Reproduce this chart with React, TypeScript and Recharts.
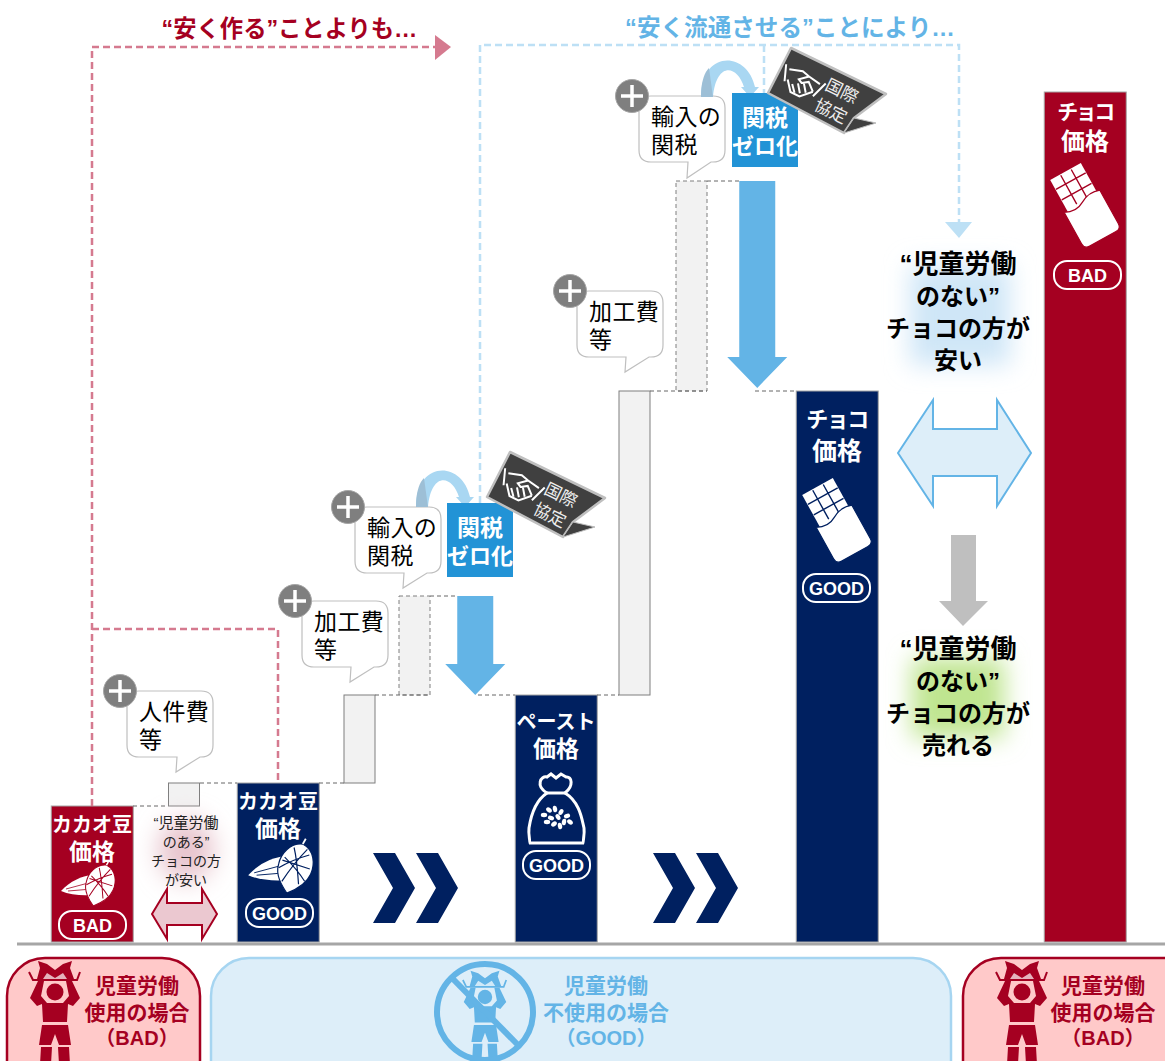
import { Bar, BarChart, ReferenceLine, XAxis, YAxis } from "recharts";

const WIDTH = 1165;
const HEIGHT = 1061;
const BASE_Y = 942;
const PRICE_BAR_WIDTH = 82;
const CUT_ARROW_WIDTH = 60;

const NAVY = "#002060";
const CRIMSON = "#a50021";
const SKY = "#63b4e6";
const PALE_SKY = "#ddeef9";
const FONT = '"Liberation Sans", "Noto Sans CJK JP", sans-serif';

// price bars, cost steps and the tariff cuts, all on one price scale
const priceSteps = [92, 278, 556, 837, 1085];
const priceValues = [136, 159, 247, 551, 850];
const priceGrades = ["BAD", "GOOD", "GOOD", "GOOD", "BAD"];

const costSteps = [184, 359.5, 414.5, 634.5, 691.5];
const costFrom = [136, 159, 247, 247, 551];
const costTo = [159, 247, 346, 551, 761];
const costKinds = ["labour", "process", "tariff", "process", "tariff"];

const cutSteps = [475, 757];
const cutFrom = [346, 761];
const cutTo = [247, 554];

const connectorLevels = [136, 159, 159, 247, 346, 247, 247, 551, 761, 551];
const connectorStart = [133, 200, 319, 375, 430, 478, 597, 650, 707, 755];
const connectorEnd = [168, 237, 344, 430, 458, 515, 619, 707, 739, 796];

const rows = [
  ...priceSteps.map((step, i) => ({ step, price: [0, priceValues[i]], grade: priceGrades[i] })),
  ...costSteps.map((step, i) => ({ step, cost: [costFrom[i], costTo[i]], kind: costKinds[i] })),
  ...cutSteps.map((step, i) => ({ step, cut: [cutTo[i], cutFrom[i]] })),
];

// The number axis caps bar width at the closest gap between steps, so the wide shapes re-centre themselves
function PriceBar(props: any) {
  if (!props.payload.price) return null;
  const fill = props.payload.grade === "BAD" ? CRIMSON : NAVY;
  const left = props.x + props.width / 2 - PRICE_BAR_WIDTH / 2;
  return <rect x={left} y={props.y} width={PRICE_BAR_WIDTH} height={props.height} fill={fill} stroke="#a6a6a6" strokeWidth={1} />;
}

function CostBar(props: any) {
  if (!props.payload.cost) return null;
  const dashed = props.payload.kind === "tariff";
  return (
    <rect
      x={props.x}
      y={props.y}
      width={props.width}
      height={props.height}
      fill="#f2f2f2"
      stroke="#7f7f7f"
      strokeWidth={1}
      strokeDasharray={dashed ? "4 3" : undefined}
    />
  );
}

function CutArrow(props: any) {
  if (!props.payload.cut) return null;
  const { y, height } = props;
  const mid = props.x + props.width / 2;
  const half = CUT_ARROW_WIDTH / 2;
  const head = y + height - 31;
  const pts = [
    [mid - 18, y],
    [mid + 18, y],
    [mid + 18, head],
    [mid + half, head],
    [mid, y + height],
    [mid - half, head],
    [mid - 18, head],
  ];
  return <polygon points={pts.map((p) => p.join(",")).join(" ")} fill={SKY} />;
}

function Lines({ x, y, step = 0, lines, size, fill = "#000", weight = 400, anchor = "middle", spacing }: any) {
  return (
    <g fontSize={size} fill={fill} fontWeight={weight} textAnchor={anchor} letterSpacing={spacing}>
      {lines.map((line: string, i: number) => (
        <text key={i} x={x} y={y + i * step}>
          {line}
        </text>
      ))}
    </g>
  );
}

function GradePill({ x, y, label, width = 67 }: any) {
  return (
    <g>
      <rect x={x} y={y} width={width} height={28} rx={13} fill="none" stroke="#fff" strokeWidth={2} />
      <text x={x + width / 2} y={y + 21} fontSize={18} fontWeight={700} fill="#fff" textAnchor="middle">
        {label}
      </text>
    </g>
  );
}

function Callout({ x, y, tipX, tipY, lines }: any) {
  // rounded speech bubble with the plus badge on its top-left corner
  const w = 86;
  const h = 66;
  const r = 12;
  const d = `M${x + r},${y} H${x + w - r} Q${x + w},${y} ${x + w},${y + r} V${y + h - r} Q${x + w},${y + h} ${x + w - r},${y + h} H${tipX + 24} L${tipX},${tipY} L${tipX + 1},${y + h} H${x + r} Q${x},${y + h} ${x},${y + h - r} V${y + r} Q${x},${y} ${x + r},${y} Z`;
  return (
    <g>
      <path d={d} fill="#fff" stroke="#bfbfbf" strokeWidth={1.2} />
      <circle cx={x - 7} cy={y} r={16.5} fill="#7f7f7f" stroke="#a6a6a6" strokeWidth={1} />
      <path d={`M${x - 18},${y} H${x + 4} M${x - 7},${y - 11} V${y + 11}`} stroke="#fff" strokeWidth={3.5} />
      <Lines x={x + 12} y={y + 29} step={28} lines={lines} size={23} anchor="start" spacing={0.4} />
    </g>
  );
}

// 関税ゼロ化 box, its curved arrow and the 国際協定 tag; the group is reused higher up
function TariffZero({ dx = 0, dy = 0, tagDx = 0, tagDy = 0 }: any) {
  return (
    <g transform={`translate(${dx},${dy})`}>
      <path d="M416,507 C416,460 462,460 470,497 L459,497 C452,474 431,472 428,507 Z" fill="#a9d7f2" />
      <path d="M416,507 C416,490 420,482 424,478 L428,507 Z" fill="#9dbfd6" />
      <polygon points="456,497 474,497 465,507" fill="#a9d7f2" />
      <rect x={447} y={503} width={66} height={74} fill="#2293d6" />
      <Lines x={480} y={536} lines={["関税"]} size={23} fill="#fff" weight={700} />
      <Lines x={480} y={564} lines={["ゼロ化"]} size={22} fill="#fff" weight={700} />
      <g transform={`translate(${tagDx},${tagDy})`}>
        <polygon points="510,452 605,498 573,522 563,537 487,497" fill="#404040" stroke="#bfbfbf" strokeWidth={2.5} strokeLinejoin="round" />
        <polygon points="573,522 595,527 563,537" fill="#404040" stroke="#bfbfbf" strokeWidth={1} />
        <g transform="translate(521,486) rotate(26)" fill="none" stroke="#fff" strokeWidth={2}>
          <path d="M-22,-9 L-16,7 M22,-9 L16,8" />
          <path d="M-17,-6 L-4,-10 L4,-8 L17,-6 M-14,4 L-6,14 L4,14 L14,4" />
          <path d="M-8,6 L-2,13 M-3,3 L3,11 M2,0 L8,8 M4,-8 L-4,-1 L0,1 L6,-3 L14,4" />
        </g>
        <text x={561} y={501} fontSize={17} fill="#eee" textAnchor="middle" transform="rotate(26 561 495)">
          国際
        </text>
        <text x={550} y={521} fontSize={17} fill="#eee" textAnchor="middle" transform="rotate(26 550 515)">
          協定
        </text>
      </g>
    </g>
  );
}

function CacaoIcon({ cx, cy, scale, ink }: any) {
  return (
    <g transform={`translate(${cx},${cy}) scale(${scale})`} stroke={ink}>
      <path d="M-39,6 C-30,-4 -18,-9 -8,-10 L-6,10 C-18,11 -30,10 -39,6 Z" fill="#fff" stroke="none" />
      <path d="M-34,4 L-8,-3 M-32,6 L-8,4" fill="none" strokeWidth={0.8} />
      <g transform="rotate(18)">
        <path d="M0,-21 C11,-19 15,-8 14,1 C13,11 5,18 0,22 C-5,18 -14,11 -14,1 C-15,-8 -10,-19 0,-21 Z" fill="#fff" stroke={ink} strokeWidth={1} />
        <path d="M-11,-6 C-3,-2 5,3 11,8 M-13,4 C-6,-4 2,-10 8,-14 M-7,14 C-4,3 0,-8 5,-18 M7,12 C3,2 -1,-8 -6,-16 M-12,-3 L12,-3" fill="none" strokeWidth={1} />
        <path d="M0,-21 L1,-26" stroke="#fff" strokeWidth={1.5} />
      </g>
    </g>
  );
}

function ChocoIcon({ x, y, ink }: any) {
  return (
    <g transform={`translate(${x},${y}) rotate(-29)`}>
      <rect x={-17.5} y={0} width={35} height={38} fill="#fff" />
      <path d="M-6,1 V34 M6,1 V34 M-17,11 H17 M-17,23 H17" stroke={ink} strokeWidth={1.4} />
      <path
        d="M-21,35 Q-10,41 0,35 T21,33 L21,71 Q21,77 15,77 H-15 Q-21,77 -21,71 Z"
        fill="#fff"
        stroke={ink}
        strokeWidth={1.2}
      />
    </g>
  );
}

function SackIcon() {
  return (
    <g>
      <path
        d="M547,793 C535,786 541,775 547,777 L551,774 L556,778 L561,774 L566,777 C572,776 574,786 565,793 C580,802 582,820 584,828 C585,836 582,842 584,843 H529 C531,842 528,836 529,828 C531,815 535,801 547,793 Z"
        fill={NAVY}
        stroke="#fff"
        strokeWidth={3}
      />
      <path d="M547,793 H565" stroke="#fff" strokeWidth={3} />
      {[
        [544, 815],
        [549, 810],
        [555, 809],
        [561, 812],
        [567, 816],
        [551, 818],
        [558, 817],
        [564, 822],
        [554, 824],
        [547, 822],
        [570, 822],
        [560, 826],
      ].map(([cx, cy], i) => (
        <ellipse key={i} cx={cx} cy={cy} rx={3.2} ry={2.2} fill="#fff" transform={`rotate(${i * 40} ${cx} ${cy})`} />
      ))}
    </g>
  );
}

function Worker({ cx, cy, scale = 1, ink }: any) {
  return (
    <g transform={`translate(${cx},${cy}) scale(${scale})`} fill={ink}>
      <polygon points="-18,-13 -15,-24 -17,-31 -8,-28 0,-22 8,-28 17,-31 15,-24 19,-13" />
      <polygon points="-8,-19 0,-14 8,-19 12,-13 -12,-13" fill="#fff" opacity={0.7} />
      <path d="M-26,-20 L-22,-12 H22 L25,-20" fill="none" stroke={ink} strokeWidth={2} />
      <circle cx={0} cy={0} r={8.5} />
      <path d="M-17,-11 H-11 L-14,4 L-8,11 H8 L14,4 L11,-11 H17 L25,6 L18,14 L13,12 L12,30 H-12 L-13,12 L-18,14 L-25,6 Z" />
      <path d="M-13,33 H13 L16,53 H4 L0,42 L-4,53 H-16 Z" />
      <path d="M-14,55 H-3 L-5,90 H-16 Z M3,55 H14 L16,90 H5 Z" />
    </g>
  );
}

function Chevrons({ x }: any) {
  return (
    <g fill={NAVY}>
      {[x, x + 43].map((c) => (
        <polygon key={c} points={`${c},853 ${c + 22},853 ${c + 42},888 ${c + 22},923 ${c},923 ${c + 20},888`} />
      ))}
    </g>
  );
}

function Annotations() {
  return (
    <svg
      width={WIDTH}
      height={HEIGHT}
      style={{ position: "absolute", left: 0, top: 0, fontFamily: FONT, pointerEvents: "none" }}
    >
      <defs>
        <filter id="soft" x="-40%" y="-40%" width="180%" height="180%">
          <feGaussianBlur stdDeviation="12" />
        </filter>
      </defs>

      <line x1={17} x2={WIDTH} y1={BASE_Y + 2} y2={BASE_Y + 2} stroke="#a6a6a6" strokeWidth={3} />

      {/* headline brackets */}
      <path d="M92,806 V47 H435 M92,629 H278 V783" fill="none" stroke="#d57a8f" strokeWidth={2.5} strokeDasharray="7 4" />
      <polygon points="435,35 451,47 435,60" fill="#d57a8f" />
      <path d="M480,503 V45 H959 V222 M764,45 V93" fill="none" stroke="#bde0f5" strokeWidth={2.5} strokeDasharray="7 4" />
      <polygon points="945,222 972,222 959,238" fill="#bde0f5" />
      <Lines x={289.5} y={37} lines={["“安く作る”ことよりも…"]} size={23.3} fill={CRIMSON} weight={700} />
      <Lines x={790} y={36} lines={["“安く流通させる”ことにより…"]} size={23.6} fill={SKY} weight={700} />

      {/* text and icons on the price bars */}
      <Lines x={92} y={832} lines={["カカオ豆"]} size={20} fill="#fff" weight={700} />
      <Lines x={92} y={860} lines={["価格"]} size={23} fill="#fff" weight={700} />
      <CacaoIcon cx={100} cy={885} scale={1} ink={CRIMSON} />
      <GradePill x={59} y={911} label="BAD" />
      <Lines x={278} y={809} lines={["カカオ豆"]} size={20} fill="#fff" weight={700} />
      <Lines x={278} y={837} lines={["価格"]} size={23} fill="#fff" weight={700} />
      <CacaoIcon cx={295} cy={868} scale={1.2} ink={NAVY} />
      <GradePill x={246} y={899} label="GOOD" />
      <Lines x={556} y={729} lines={["ペースト"]} size={20} fill="#fff" weight={700} />
      <Lines x={556} y={757} lines={["価格"]} size={23} fill="#fff" weight={700} />
      <SackIcon />
      <GradePill x={523} y={851} label="GOOD" />
      <Lines x={837} y={427} lines={["チョコ"]} size={22} fill="#fff" weight={700} spacing={-1.5} />
      <Lines x={837} y={460} lines={["価格"]} size={25} fill="#fff" weight={700} />
      <ChocoIcon x={817.5} y={486.5} ink={NAVY} />
      <GradePill x={803} y={574} label="GOOD" />
      <Lines x={1085} y={119} lines={["チョコ"]} size={21} fill="#fff" weight={700} spacing={-2.5} />
      <Lines x={1085} y={150} lines={["価格"]} size={24} fill="#fff" weight={700} />
      <ChocoIcon x={1065.5} y={171.5} ink={CRIMSON} />
      <GradePill x={1054} y={261} label="BAD" />

      <Chevrons x={373} />
      <Chevrons x={653} />

      <Callout x={127} y={691} tipX={176} tipY={772} lines={["人件費", "等"]} />
      <Callout x={302} y={601} tipX={350} tipY={682} lines={["加工費", "等"]} />
      <Callout x={355} y={507} tipX={403} tipY={588} lines={["輸入の", "関税"]} />
      <Callout x={577} y={291} tipX={625} tipY={372} lines={["加工費", "等"]} />
      <Callout x={639} y={96} tipX={687} tipY={178} lines={["輸入の", "関税"]} />
      <TariffZero />
      <TariffZero dx={285} dy={-410} tagDx={-4} tagDy={6} />

      {/* gap between the two kinds of cacao */}
      <ellipse cx={186} cy={850} rx={28} ry={32} fill="#e8c5ce" filter="url(#soft)" />
      <Lines x={186} y={828} lines={["“児童労働"]} size={15} fill="#222" />
      <Lines x={186} y={847} step={19} lines={["のある”", "チョコの方", "が安い"]} size={14} fill="#222" />
      <polygon
        points="152,914 167,889 167,903 202,903 202,889 217,914 202,939 202,925 167,925 167,939"
        fill="#ebc8d0"
        stroke={CRIMSON}
        strokeWidth={2}
      />

      {/* right-hand message */}
      <rect x={910} y={265} width={100} height={100} fill="#cfe6f7" filter="url(#soft)" />
      <Lines x={958} y={273} lines={["“児童労働"]} size={26} weight={700} />
      <Lines x={958} y={305} step={32} lines={["のない”", "チョコの方が", "安い"]} size={24} weight={700} />
      <polygon
        points="898,453 933,400 933,429 997,429 997,400 1031,453 997,506 997,476 933,476 933,506"
        fill={PALE_SKY}
        stroke={SKY}
        strokeWidth={2}
      />
      <polygon points="951,535 976,535 976,601 988,601 963,626 939,601 951,601" fill="#bfbfbf" />
      <rect x={912} y={658} width={92} height={80} fill="#bfe590" filter="url(#soft)" />
      <Lines x={958} y={658} lines={["“児童労働"]} size={26} weight={700} />
      <Lines x={958} y={690} step={32} lines={["のない”", "チョコの方が", "売れる"]} size={24} weight={700} />

      {/* scenario strip under the axis */}
      <rect x={7} y={958} width={193} height={140} rx={38} fill="#ffc9c9" stroke={CRIMSON} strokeWidth={2.5} />
      <rect x={211} y={958} width={740} height={140} rx={38} fill={PALE_SKY} stroke="#a6d5f1" strokeWidth={2.5} />
      <rect x={963} y={958} width={240} height={140} rx={38} fill="#ffc9c9" stroke={CRIMSON} strokeWidth={2.5} />
      <Worker cx={55} cy={992} ink={CRIMSON} />
      <Lines x={137} y={993} step={27} lines={["児童労働", "使用の場合"]} size={21} fill={CRIMSON} weight={700} />
      <Lines x={137} y={1045} lines={["（BAD）"]} size={20} fill={CRIMSON} weight={700} />
      <Worker cx={485} cy={997} scale={0.85} ink={SKY} />
      <circle cx={485} cy={1012} r={48} fill="none" stroke={SKY} strokeWidth={6} />
      <path d="M452,978 L518,1045" stroke={SKY} strokeWidth={6} />
      <Lines x={606} y={993} step={27} lines={["児童労働", "不使用の場合"]} size={21} fill={SKY} weight={700} />
      <Lines x={606} y={1045} lines={["（GOOD）"]} size={20} fill={SKY} weight={700} />
      <Worker cx={1022} cy={992} ink={CRIMSON} />
      <Lines x={1103} y={993} step={27} lines={["児童労働", "使用の場合"]} size={21} fill={CRIMSON} weight={700} />
      <Lines x={1103} y={1045} lines={["（BAD）"]} size={20} fill={CRIMSON} weight={700} />
    </svg>
  );
}

export default function App() {
  return (
    <div style={{ position: "absolute", left: 0, top: 0, width: WIDTH, height: HEIGHT, overflow: "hidden", background: "#fff" }}>
      <BarChart width={WIDTH} height={HEIGHT} data={rows} margin={{ top: 0, right: 0, bottom: HEIGHT - BASE_Y, left: 0 }}>
        <XAxis xAxisId="price" dataKey="step" type="number" domain={[0, WIDTH]} hide />
        <XAxis xAxisId="cost" dataKey="step" type="number" domain={[0, WIDTH]} hide />
        <XAxis xAxisId="cut" dataKey="step" type="number" domain={[0, WIDTH]} hide />
        <YAxis yAxisId="level" type="number" domain={[0, BASE_Y]} hide />
        {connectorLevels.map((level, i) => (
          <ReferenceLine
            key={i}
            xAxisId="price"
            yAxisId="level"
            segment={[
              { x: connectorStart[i], y: level },
              { x: connectorEnd[i], y: level },
            ]}
            stroke="#666"
            strokeWidth={1}
            strokeDasharray="4 3"
          />
        ))}
        <Bar xAxisId="price" yAxisId="level" dataKey="price" barSize={82} shape={PriceBar} isAnimationActive={false} />
        <Bar xAxisId="cost" yAxisId="level" dataKey="cost" barSize={31} shape={CostBar} isAnimationActive={false} />
        <Bar xAxisId="cut" yAxisId="level" dataKey="cut" barSize={60} shape={CutArrow} isAnimationActive={false} />
      </BarChart>
      <Annotations />
    </div>
  );
}
